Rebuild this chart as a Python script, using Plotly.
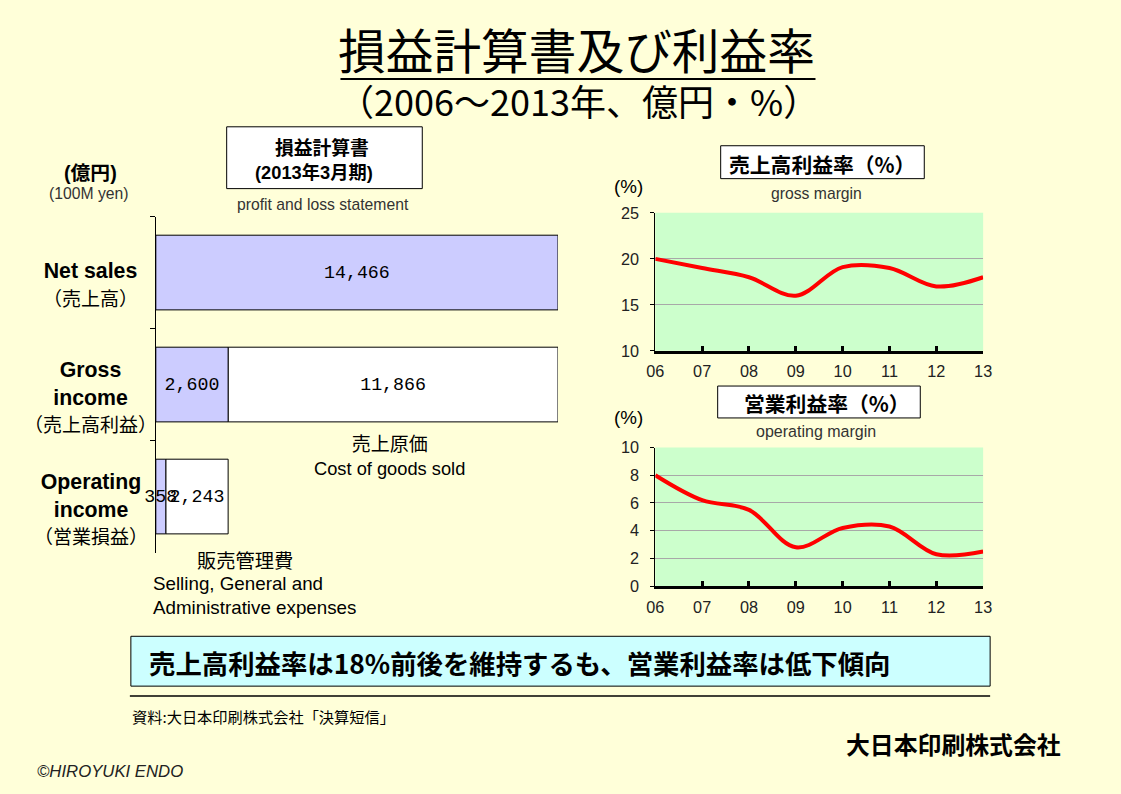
import plotly.graph_objects as go

# ---------------- data ----------------
categories = ["Net sales", "Gross income", "Operating income"]
category_labels = [
    "<b>Net sales</b><br><span style='font-size:19px'>（売上高）</span>",
    "<b>Gross</b><br><b>income</b><br><span style='font-size:19px'>（売上高利益）</span>",
    "<b>Operating</b><br><b>income</b><br><span style='font-size:19px'>（営業損益）</span>",
]
profit_part = [14466, 2600, 358]          # purple segment
cost_part = [None, 11866, 2243]           # white segment (COGS / SG&A)

years = ["06", "07", "08", "09", "10", "11", "12", "13"]
gross_margin = [20.0, 19.0, 18.0, 16.0, 19.1, 19.0, 17.0, 18.0]
operating_margin = [8.0, 6.2, 5.5, 2.8, 4.2, 4.3, 2.3, 2.5]

gross_ticks = [10, 15, 20, 25]
op_ticks = [0, 2, 4, 6, 8, 10]

# ---------------- helpers ----------------
W, H = 1121, 794
# the photographed page sits inside an 8px frame that is scaled back to W x H
SX, SY, OFF = (W + 16) / W, (H + 16) / H, 8
FS = 1.015
BG = "#FFFFD9"
JP = "Noto Sans CJK JP"
LAT = "Liberation Sans, Noto Sans CJK JP"


def px(x):
    return (x * SX - OFF) / W


def py(y):
    return 1 - (y * SY - OFF) / H


def fmt(v):
    return "" if v is None else f"{v:,}"


fig = go.Figure()

# ---------------- bar chart ----------------
fig.add_trace(go.Bar(
    y=categories, x=cost_part, base=profit_part, orientation="h",
    marker=dict(color="#FFFFFF", line=dict(color="black", width=1)),
    text=[fmt(v) for v in cost_part], textposition="inside", textangle=0,
    insidetextanchor="middle", constraintext="none", cliponaxis=False,
    textfont=dict(family="Liberation Mono", size=18 * FS, color="black"),
    xaxis="x", yaxis="y", showlegend=False, hoverinfo="skip",
))
fig.add_trace(go.Bar(
    y=categories, x=profit_part, orientation="h",
    marker=dict(color="#CCCCFF", line=dict(color="black", width=1)),
    text=[fmt(v) for v in profit_part], textposition="inside", textangle=0,
    insidetextanchor="middle", constraintext="none", cliponaxis=False,
    textfont=dict(family="Liberation Mono", size=18 * FS, color="black"),
    xaxis="x", yaxis="y", showlegend=False, hoverinfo="skip",
))

# ---------------- line charts ----------------
fig.add_trace(go.Scatter(
    x=years, y=gross_margin, mode="lines",
    line=dict(color="#FF0000", width=4, shape="spline", smoothing=1),
    xaxis="x2", yaxis="y2", showlegend=False, hoverinfo="skip",
))
fig.add_trace(go.Scatter(
    x=years, y=operating_margin, mode="lines",
    line=dict(color="#FF0000", width=4, shape="spline", smoothing=1),
    xaxis="x3", yaxis="y3", showlegend=False, hoverinfo="skip",
))

line_x_dom = [px(655.5), px(984)]
xline = dict(
    type="category", range=[0, len(years) - 1], showgrid=False,
    showline=True, linecolor="black", linewidth=3,
    ticks="inside", ticklen=5, tickwidth=3, tickcolor="black",
    ticklabelstandoff=4,
    tickfont=dict(family=LAT, size=16 * FS, color="#222"), zeroline=False,
    fixedrange=True,
)
yline = dict(
    showgrid=True, gridcolor="#A8A8A8", gridwidth=1,
    showline=True, linecolor="black", linewidth=1,
    ticks="outside", ticklen=4, tickcolor="black",
    ticklabelstandoff=8,
    tickfont=dict(family=LAT, size=16 * FS, color="#222"), zeroline=False,
    fixedrange=True,
)

fig.update_layout(
    width=W, height=H,
    margin=dict(l=0, r=0, t=0, b=0),
    paper_bgcolor=BG, plot_bgcolor=BG,
    barmode="overlay", bargap=0.333,
    xaxis=dict(domain=[px(155), px(558)], range=[0, 14466], visible=False,
               anchor="y", fixedrange=True),
    yaxis=dict(domain=[py(553), py(216)], anchor="x",
               categoryorder="array", categoryarray=categories,
               autorange="reversed", tickson="boundaries",
               ticks="outside", ticklen=5, tickcolor="black",
               showline=True, linecolor="black", linewidth=1,
               showticklabels=False, showgrid=False, zeroline=False,
               fixedrange=True),
    xaxis2=dict(domain=line_x_dom, anchor="y2", **xline),
    yaxis2=dict(domain=[py(350.7), py(212.3)], anchor="x2",
                range=[gross_ticks[0], gross_ticks[-1]], tickvals=gross_ticks,
                **yline),
    xaxis3=dict(domain=line_x_dom, anchor="y3", **xline),
    yaxis3=dict(domain=[py(586.7), py(447.7)], anchor="x3",
                range=[op_ticks[0], op_ticks[-1]], tickvals=op_ticks,
                **yline),
)

# ---------------- shapes ----------------
def rect(x0, x1, y0, y1, fill):
    return dict(type="rect", xref="paper", yref="paper", x0=px(x0), x1=px(x1),
                y0=py(y1), y1=py(y0), fillcolor=fill,
                line=dict(color="black", width=1))


def hline(x0, x1, y, width):
    return dict(type="line", xref="paper", yref="paper", x0=px(x0), x1=px(x1),
                y0=py(y), y1=py(y), line=dict(color="black", width=width))


shapes = [
    dict(type="rect", xref="x2 domain", yref="y2 domain", x0=0, x1=1, y0=0, y1=1,
         fillcolor="#CCFFCC", line=dict(width=0), layer="below"),
    dict(type="rect", xref="x3 domain", yref="y3 domain", x0=0, x1=1, y0=0, y1=1,
         fillcolor="#CCFFCC", line=dict(width=0), layer="below"),
    hline(340, 816, 78, 2),
    rect(226, 422, 126, 188, "white"),
    rect(721, 925, 145, 178, "white"),
    rect(718, 921, 386, 418, "white"),
    rect(130, 991, 637, 687, "#CCFFFF"),
    hline(129, 991, 697, 1.5),
]
fig.update_layout(shapes=shapes)

# ---------------- annotations ----------------
ann = []


def txt(text, x, y, size, family=JP, color="black", xanchor="center",
        yanchor="middle", align="center", bold=False, italic=False):
    t = text
    if bold:
        t = f"<b>{t}</b>"
    if italic:
        t = f"<i>{t}</i>"
    ann.append(dict(text=t, x=px(x), y=py(y), xref="paper", yref="paper",
                    xanchor=xanchor, yanchor=yanchor, align=align,
                    showarrow=False,
                    font=dict(family=family, size=size * FS, color=color)))


txt("損益計算書及び利益率", 577, 47, 47)
txt("（2006～2013年、億円・%）", 579, 99, 35.5)

txt("損益計算書", 322, 146, 18.5, bold=True)
txt("(2013年3月期)", 314, 172, 18, family=LAT, bold=True)
txt("profit and loss statement", 323, 204, 15.5, family=LAT, color="#333")
txt("(億円)", 90, 172, 19.5, family=LAT, bold=True)
txt("(100M yen)", 88, 193, 15.5, family=LAT, color="#333")

txt("<span style='font-size:19px'>売上原価</span><br>Cost of goods sold",
    389, 457, 18, family=LAT)
txt("販売管理費", 244, 560, 19)
txt("Selling, General and<br>Administrative expenses", 150, 596, 18.5,
    family=LAT, xanchor="left", align="left")

txt("売上高利益率（%）", 823, 163, 20.5, bold=True)
txt("(%)", 629, 186, 18.5, family=LAT)
txt("gross margin", 817, 193, 15.5, family=LAT, color="#333")
txt("営業利益率（%）", 828, 403, 20.5, bold=True)
txt("(%)", 629, 418, 18.5, family=LAT)
txt("operating margin", 817, 431, 15.8, family=LAT, color="#333")

txt("売上高利益率は18%前後を維持するも、営業利益率は低下傾向", 146, 663, 26,
    bold=True, xanchor="left", align="left")
txt("資料:大日本印刷株式会社「決算短信」", 129, 717, 15, xanchor="left", align="left")
txt("大日本印刷株式会社", 1064, 745, 23.5, bold=True, xanchor="right", align="right")
txt("©HIROYUKI ENDO", 34, 773, 16.5, family=LAT, color="#222", italic=True,
    xanchor="left", align="left")

for cat, lab in zip(categories, category_labels):
    ann.append(dict(text=lab, x=px(90), y=cat, xref="paper", yref="y",
                    yshift=-12, xanchor="center", yanchor="middle",
                    align="center", showarrow=False,
                    font=dict(family=LAT, size=21 * FS, color="black")))

fig.update_layout(annotations=ann)

fig.write_html(
    "out.html",
    config={"displayModeBar": False},
    post_script=(
        "document.documentElement.style.overflow='hidden';"
        "document.body.style.margin='0';document.body.style.padding='0';"
    ),
)
